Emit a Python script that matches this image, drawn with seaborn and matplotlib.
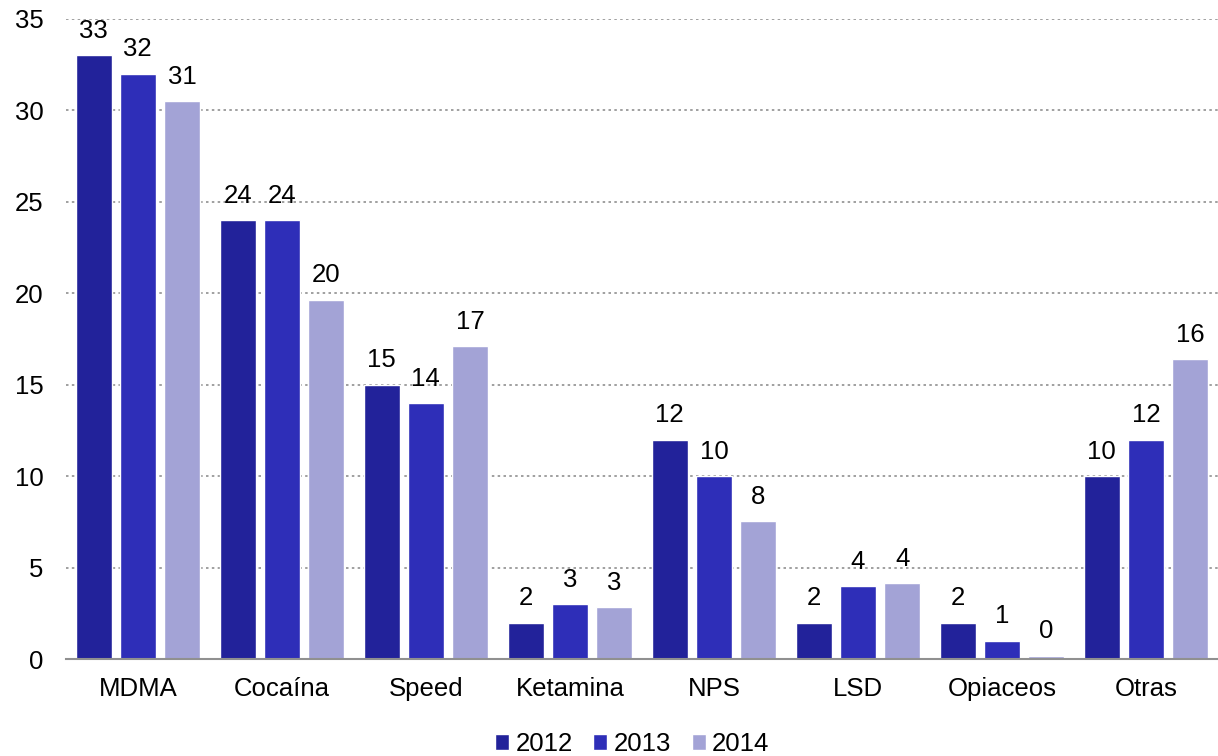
import pandas as pd
import numpy as np
import matplotlib
matplotlib.use("Agg")
import matplotlib.pyplot as plt
import seaborn as sns

categorias = ["MDMA", "Cocaína", "Speed", "Ketamina", "NPS", "LSD", "Opiaceos", "Otras"]
anios = ["2012", "2013", "2014"]
v2012 = [33, 24, 15, 2, 12, 2, 2, 10]
v2013 = [32, 24, 14, 3, 10, 4, 1, 12]
v2014 = [30.5, 19.65, 17.1, 2.85, 7.55, 4.15, 0.18, 16.4]
colores = ["#22229A", "#2E2EB8", "#A3A3D6"]

df = pd.DataFrame({
    "cat": categorias * 3,
    "anio": [a for a in anios for _ in categorias],
    "valor": v2012 + v2013 + v2014,
})

sns.set_theme(style="white")
plt.rcParams["font.family"] = ["Liberation Sans", "DejaVu Sans"]
plt.rcParams["text.color"] = "black"

fs = 18.5
fig = plt.figure(figsize=(12.18, 7.56), dpi=100)
ax = fig.add_axes([0.054, 0.128, 0.946, 0.847])

sns.barplot(data=df, x="cat", y="valor", hue="anio", palette=colores,
            width=0.92, gap=0.19, ax=ax, errorbar=None, saturation=1)

# etiquetas redondeadas encima de cada barra
for cont in ax.containers:
    vals = cont.datavalues
    ax.bar_label(cont, labels=[str(int(v + 0.5)) for v in vals], padding=9,
                 fontsize=fs, color="black")

ax.set_ylim(0, 35)
ax.set_xlim(-0.5, 7.5)
ax.set_yticks(range(0, 36, 5))
ax.yaxis.grid(True, linestyle=(0, (1.5, 2)), color="#909090", linewidth=1.2)
ax.set_axisbelow(True)
ax.set_xlabel("")
ax.set_ylabel("")
ax.tick_params(axis="both", labelsize=fs, length=0, labelcolor="black")
ax.tick_params(axis="x", pad=13)
ax.tick_params(axis="y", pad=16)
for s in ["top", "right", "left"]:
    ax.spines[s].set_visible(False)
ax.spines["bottom"].set_color("#909090")
ax.spines["bottom"].set_linewidth(1.5)

ax.legend(loc="lower center", bbox_to_anchor=(0.519, 0.0), bbox_transform=fig.transFigure,
          ncol=3, frameon=False, fontsize=fs, handlelength=0.55, handleheight=0.55,
          handletextpad=0.25, columnspacing=0.8, borderaxespad=0, borderpad=0.0)

fig.savefig("out.png", dpi=100)
